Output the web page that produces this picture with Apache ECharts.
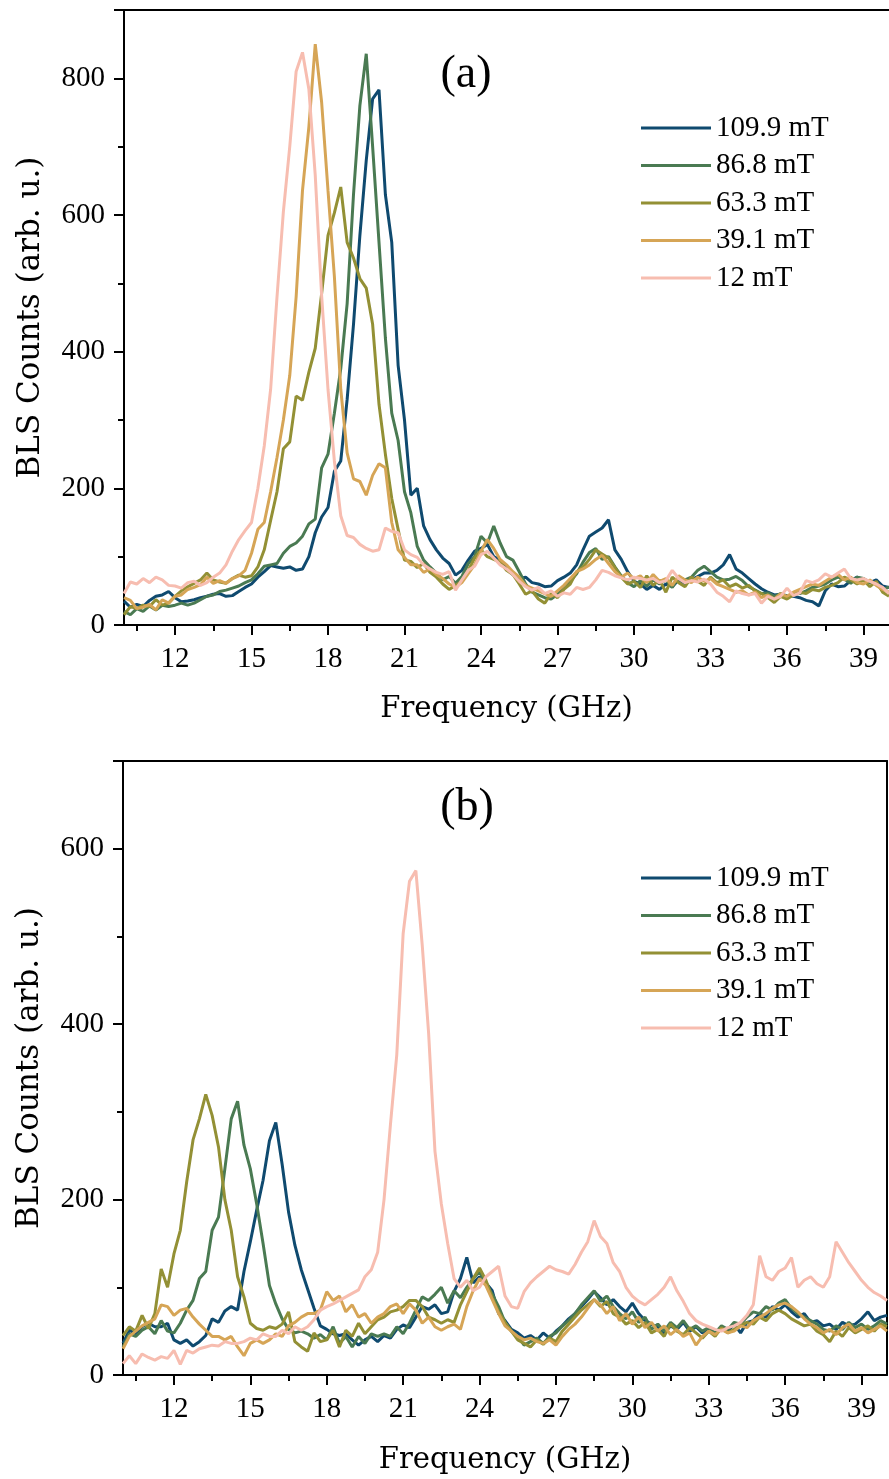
<!DOCTYPE html>
<html>
<head>
<meta charset="utf-8">
<script src="https://cdn.jsdelivr.net/npm/echarts@6/dist/echarts.min.js"></script>
<style>
html,body{margin:0;padding:0;background:#fff;}
#chart{width:889px;height:1479px;}
</style>
</head>
<body>
<div id="chart"></div>
<script>
// Frequency grid (GHz)
const freq = [
10,10.25,10.5,10.75,11,11.25,11.5,11.75,
12,12.25,12.5,12.75,13,13.25,13.5,13.75,
14,14.25,14.5,14.75,15,15.25,15.5,15.75,
16,16.25,16.5,16.75,17,17.25,17.5,17.75,
18,18.25,18.5,18.75,19,19.25,19.5,19.75,
20,20.25,20.5,20.75,21,21.25,21.5,21.75,
22,22.25,22.5,22.75,23,23.25,23.5,23.75,
24,24.25,24.5,24.75,25,25.25,25.5,25.75,
26,26.25,26.5,26.75,27,27.25,27.5,27.75,
28,28.25,28.5,28.75,29,29.25,29.5,29.75,
30,30.25,30.5,30.75,31,31.25,31.5,31.75,
32,32.25,32.5,32.75,33,33.25,33.5,33.75,
34,34.25,34.5,34.75,35,35.25,35.5,35.75,
36,36.25,36.5,36.75,37,37.25,37.5,37.75,
38,38.25,38.5,38.75,39,39.25,39.5,39.75,
40];

const fieldLabels = ['109.9 mT','86.8 mT','63.3 mT','39.1 mT','12 mT'];
const xTickLabels = [12,15,18,21,24,27,30,33,36,39];
const xMinorTicks = [10.5,13.5,16.5,19.5,22.5,25.5,28.5,31.5,34.5,37.5];

// ---- panel (a) ----
const top109_9 = [
35,26,30,27,36,42,44,49,
40,34,35,37,40,42,45,46,
42,43,49,55,60,70,78,87,
85,83,85,80,82,100,135,158,
172,225,240,330,440,570,680,770,
783,630,560,380,300,190,200,145,
125,110,98,90,73,80,95,108,
112,118,100,95,85,74,68,70,
62,60,56,57,65,70,76,88,
110,130,136,142,154,110,96,78,
64,60,52,58,52,60,56,66,
61,66,71,76,76,80,88,103,
82,76,68,60,53,48,44,45,
43,42,40,36,34,28,50,60,
56,57,65,70,66,62,66,57,
55];
const top86_8 = [
20,15,24,20,28,22,29,27,
29,32,29,32,37,42,44,49,
51,54,57,62,66,75,86,88,
90,105,115,120,130,148,155,230,
250,310,375,470,630,760,836,700,
560,420,310,270,195,164,115,95,
85,76,66,71,61,71,90,100,
130,120,145,120,100,95,78,60,
48,44,40,38,45,55,64,75,
92,106,112,96,100,85,72,62,
56,65,57,66,60,66,55,70,
66,70,80,86,78,70,66,67,
71,65,56,51,46,47,42,46,
41,45,46,50,55,57,60,66,
70,67,61,70,68,62,60,51,
56];
const top63_3 = [
15,27,24,29,27,37,29,32,
42,50,56,61,66,76,66,63,
61,68,73,70,72,85,110,153,
195,258,268,335,329,370,405,485,
570,603,641,560,537,507,493,440,
323,250,185,140,95,93,84,90,
77,70,60,52,58,64,80,98,
110,100,96,92,80,74,60,45,
50,38,32,46,40,52,60,78,
85,96,110,104,98,84,70,60,
64,55,72,58,66,48,70,62,
56,70,64,58,70,62,66,56,
60,54,58,50,46,40,33,42,
38,44,48,46,52,50,55,58,
62,70,66,60,66,56,64,48,
42];
const top39_1 = [
40,36,24,26,30,22,37,32,
42,44,52,55,59,70,61,65,
61,68,72,80,105,140,150,195,
245,300,365,480,636,729,850,765,
636,510,345,252,214,210,190,219,
236,230,150,110,99,88,88,77,
82,74,68,60,55,62,75,88,
108,125,112,96,88,78,70,58,
54,50,46,42,50,58,68,78,
82,88,96,102,90,78,70,76,
68,72,62,74,64,68,58,72,
66,62,70,64,68,60,56,52,
48,50,44,48,40,44,38,46,
42,48,52,56,60,58,64,70,
74,66,70,62,60,66,58,52,
48];
const top12 = [
46,63,60,68,62,70,66,58,
57,54,62,64,58,62,70,76,
88,108,125,138,150,200,262,345,
480,605,700,810,838,784,658,482,
345,240,160,131,128,118,112,108,
110,142,137,135,110,103,99,88,
82,77,74,78,51,66,80,86,
103,108,98,88,82,74,64,56,
51,55,46,50,42,47,45,55,
52,55,66,80,77,72,69,66,
70,68,66,68,62,65,80,68,
62,65,63,67,60,48,42,34,
50,46,44,46,32,42,38,42,
54,43,47,65,62,66,75,70,
76,82,68,66,68,64,60,55,
46];

// ---- panel (b) ----
const bot109_9 = [
36,51,47,55,59,55,55,59,
40,36,40,33,38,45,64,60,
73,78,74,118,152,188,222,267,
288,240,186,148,120,98,76,56,
52,47,45,47,40,34,40,44,
38,45,42,52,57,54,66,78,
75,80,70,72,95,110,134,105,
112,105,96,70,62,52,48,42,
45,40,48,42,50,56,64,70,
78,86,95,88,80,86,78,72,
82,70,62,58,54,48,56,52,
60,50,55,48,52,46,54,50,
58,48,60,62,70,66,78,74,
80,72,66,70,60,62,56,58,
52,60,56,58,64,72,62,66,
68];
const bot86_8 = [
32,47,44,51,55,47,62,50,
48,59,74,85,110,118,165,180,
235,292,312,262,235,195,150,102,
81,64,52,48,50,47,42,46,
40,55,36,44,32,44,36,47,
44,47,44,55,47,59,74,89,
85,92,100,82,96,88,100,110,
118,104,92,78,60,50,44,34,
38,42,36,44,48,56,62,70,
80,88,96,84,90,78,70,64,
72,60,66,52,58,50,60,54,
62,52,56,50,54,48,56,52,
60,58,66,72,70,78,74,82,
86,76,70,66,62,58,52,50,
56,52,60,54,58,52,56,62,
58];
const bot63_3 = [
45,55,50,68,53,70,121,100,
138,165,220,268,292,320,296,260,
200,165,112,89,59,53,51,55,
53,58,72,38,32,27,48,38,
40,51,32,51,44,59,47,55,
63,66,72,74,78,85,85,78,
66,63,59,63,60,80,95,110,
122,108,88,72,60,50,40,36,
32,40,35,42,38,50,58,66,
74,80,86,78,84,70,66,58,
62,54,60,48,52,44,58,50,
46,54,48,42,50,44,54,48,
52,56,60,58,66,62,70,74,
70,64,60,56,58,50,46,38,
50,44,54,48,52,56,50,58,
55];
const bot39_1 = [
30,44,50,56,60,64,80,78,
68,74,76,66,58,51,44,44,
40,44,32,22,36,40,36,40,
47,44,56,60,66,70,70,74,
95,85,90,72,80,66,70,59,
66,70,78,81,70,81,74,59,
66,55,51,55,58,52,78,96,
110,102,86,70,56,50,44,40,
42,38,36,40,34,44,52,58,
66,76,86,80,70,78,62,70,
58,66,54,60,50,56,46,52,
44,48,34,44,50,46,52,48,
50,56,54,62,66,70,76,80,
82,78,72,64,58,54,48,52,
46,54,58,50,54,48,52,56,
50];
const bot12 = [
13,22,13,24,20,17,21,19,
28,12,28,25,30,32,34,33,
38,36,36,38,42,40,47,44,
44,51,47,55,51,55,63,74,
78,81,85,89,93,97,112,120,
140,200,285,365,503,563,575,490,
390,255,195,150,110,100,108,96,
100,112,118,124,90,78,76,95,
105,112,118,124,120,118,115,126,
140,152,176,158,150,128,118,100,
90,84,80,86,92,100,112,96,
84,70,62,58,55,52,50,54,
56,60,68,80,136,112,108,118,
122,134,100,108,112,104,100,112,
152,140,128,118,108,100,94,90,
85];

const colors = ['#0f4a6f','#4a7a52','#939035','#d6a556','#f7bdb0'];
const topSets = [top109_9, top86_8, top63_3, top39_1, top12];
const botSets = [bot109_9, bot86_8, bot63_3, bot39_1, bot12];

const tickFont = {fontFamily:"'Liberation Serif', 'Times New Roman', serif", fontSize:29, color:'#000'};
const xTitleFont = {fontFamily:"'DejaVu Serif', serif", fontSize:29, color:'#000'};
const yTitleFont = {fontFamily:"'DejaVu Serif', serif", fontSize:31, color:'#000'};
const axisLineStyle = {color:'#000', width:2};

function xAxes(gridIndex, gap){
  return [{
    type:'value', gridIndex, min:10, max:40, position:'bottom',
    name:'Frequency (GHz)', nameLocation:'middle', nameGap:gap,
    nameTextStyle:xTitleFont,
    axisLine:{show:true, onZero:false, lineStyle:axisLineStyle},
    axisTick:{show:true, inside:false, length:10, lineStyle:axisLineStyle, customValues:xTickLabels},
    axisLabel:{show:true, margin:20, customValues:xTickLabels, ...tickFont},
    splitLine:{show:false}
  },{
    type:'value', gridIndex, min:10, max:40, position:'bottom',
    axisLine:{show:false},
    axisTick:{show:true, inside:false, length:6, lineStyle:axisLineStyle, customValues:xMinorTicks},
    axisLabel:{show:false},
    splitLine:{show:false}
  },{
    // top frame line
    type:'value', gridIndex, min:10, max:40, position:'top',
    axisLine:{show:true, onZero:false, lineStyle:axisLineStyle},
    axisTick:{show:false}, axisLabel:{show:false}, splitLine:{show:false}
  }];
}
function yAxes(gridIndex, max, rightFrame){
  const arr = [{
    type:'value', gridIndex, min:0, max:max, interval:200, position:'left',
    name:'BLS Counts (arb. u.)', nameLocation:'middle', nameGap:78, nameRotate:90,
    nameTextStyle:yTitleFont,
    axisLine:{show:true, onZero:false, lineStyle:axisLineStyle},
    axisTick:{show:true, inside:false, length:10, lineStyle:axisLineStyle},
    minorTick:{show:true, splitNumber:2, length:6, lineStyle:axisLineStyle},
    axisLabel:{show:true, margin:19, showMaxLabel:false, ...tickFont},
    splitLine:{show:false}, minorSplitLine:{show:false}
  }];
  if (rightFrame) {
    arr.push({
      type:'value', gridIndex, min:0, max:max, position:'right',
      axisLine:{show:true, onZero:false, lineStyle:axisLineStyle},
      axisTick:{show:false}, axisLabel:{show:false}, splitLine:{show:false}
    });
  }
  return arr;
}

const series = [];
topSets.forEach((vals, k) => {
  series.push({
    name: fieldLabels[k], type:'line', xAxisIndex:0, yAxisIndex:0,
    data: freq.map((f,i) => [f, vals[i]]),
    symbol:'none', showSymbol:false, color:colors[k],
    lineStyle:{width:3, color:colors[k]}, z:2+k
  });
});
botSets.forEach((vals, k) => {
  series.push({
    name: fieldLabels[k], type:'line', xAxisIndex:3, yAxisIndex:1,
    data: freq.map((f,i) => [f, vals[i]]),
    symbol:'none', showSymbol:false, color:colors[k],
    lineStyle:{width:3, color:colors[k]}, z:2+k
  });
});

function legend(top){
  return {
    data: fieldLabels, orient:'vertical', left:636, top:top,
    icon:'rect', itemWidth:70, itemHeight:3, itemGap:7.5,
    textStyle:{fontFamily:"'Liberation Serif', 'Times New Roman', serif", fontSize:29, color:'#000', lineHeight:30},
    selectedMode:false
  };
}

const option = {
  animation:false,
  backgroundColor:'#fff',
  grid:[
    {left:124, top:10, width:766, height:615, show:false},
    {left:123, top:761, width:764, height:614, show:false}
  ],
  xAxis:[...xAxes(0, 70), ...xAxes(1, 71)],
  yAxis:[...yAxes(0, 900, false), ...yAxes(1, 700, true)],
  legend:[legend(108), legend(858)],
  graphic:[
    {type:'text', x:466, y:75, style:{text:'(a)', fontFamily:"'Liberation Serif', serif", fontSize:46, fill:'#000', align:'center', verticalAlign:'middle'}},
    {type:'text', x:467, y:808, style:{text:'(b)', fontFamily:"'Liberation Serif', serif", fontSize:46, fill:'#000', align:'center', verticalAlign:'middle'}}
  ],
  series
};

const chart = echarts.init(document.getElementById('chart'), null, {renderer:'canvas'});
chart.setOption(option);
</script>
</body>
</html>
